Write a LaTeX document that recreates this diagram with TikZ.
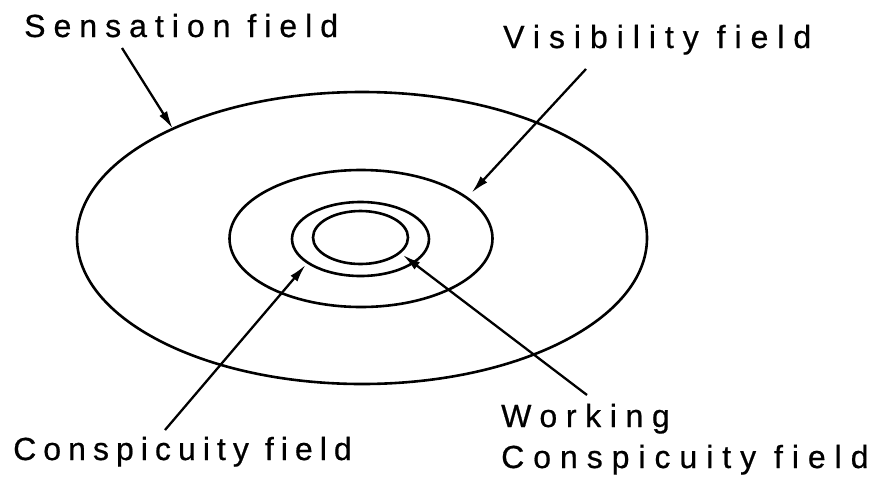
\documentclass[tikz,border=0pt]{standalone}
\usepackage{fontspec}
\setmainfont{Liberation Sans}[FakeBold=0.6]
\usetikzlibrary{shapes.geometric,arrows.meta}
\tikzset{
  field/.style={draw, ellipse, line width=2.6pt, inner sep=0pt, outer sep=0pt},
  lbl/.style={anchor=base west, inner sep=0pt, font=\fontsize{32}{38}\selectfont},
  pointer/.style={line width=2.3pt, -{Latex[length=18pt,width=9pt]}}
}
\begin{document}
\begin{tikzpicture}[x=1pt,y=-1pt]
\useasboundingbox (0,0) rectangle (875,480);
% concentric fields
\node[field, minimum width=570pt, minimum height=292pt] (sens) at (362,238) {};
\node[field, minimum width=263pt, minimum height=137pt] (vis) at (361,238.5) {};
\node[field, minimum width=137pt, minimum height=74pt] (consp) at (360.5,239) {};
\node[field, minimum width=95pt, minimum height=53pt] (work) at (360.5,237.5) {};
% labels
\node[lbl] (tsens) at (24,37) {\addfontfeature{LetterSpace=25}Sensation field};
\node[lbl] (tvis) at (503,48) {\addfontfeature{LetterSpace=28}Visibility field};
\node[lbl] (tconsp) at (13,460) {\addfontfeature{LetterSpace=22}Conspicuity field};
\node[lbl] (twork1) at (501,427) {\addfontfeature{LetterSpace=27}Working};
\node[lbl] (twork2) at (501,468) {\addfontfeature{LetterSpace=28}Conspicuity field};
% arrow start points
\coordinate (ssens) at (122,48);
\coordinate (svis) at (586,69);
\coordinate (sconsp) at (165,430);
\coordinate (swork) at (587,395);
\draw[pointer] (ssens) -- (sens.150);
\draw[pointer, shorten >=7pt] (svis) -- (vis.21);
\draw[pointer, shorten >=3pt] (sconsp) -- (consp.204);
\draw[pointer, shorten >=4pt] (swork) -- (work.-21);
\end{tikzpicture}
\end{document}
